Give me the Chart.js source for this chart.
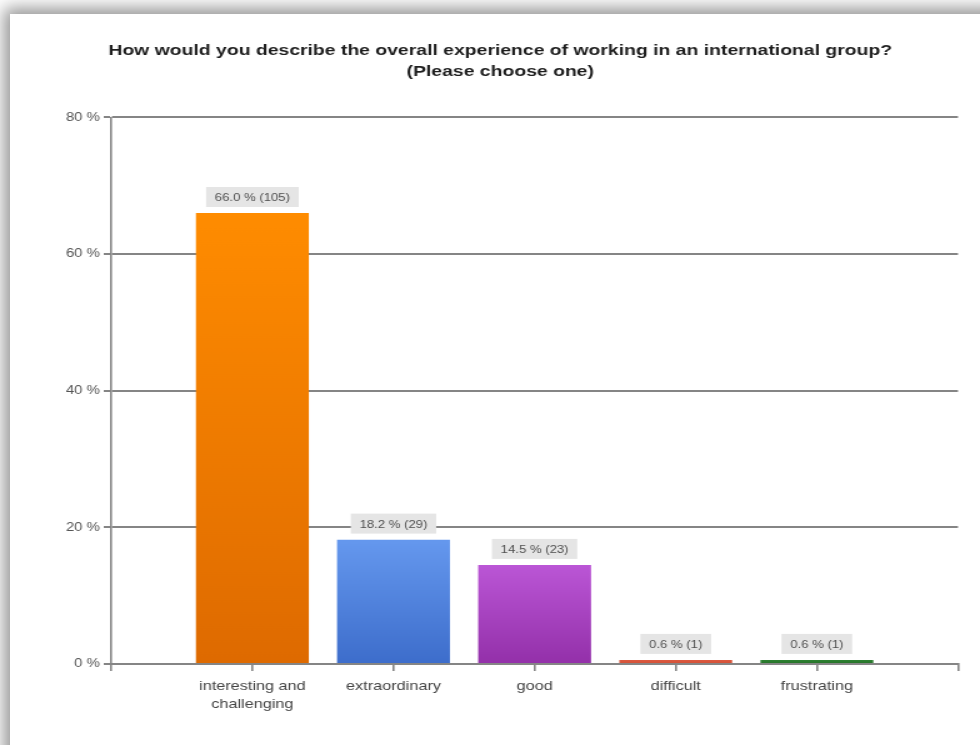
<!DOCTYPE html>
<html>
<head>
<meta charset="utf-8">
<script src="https://cdn.jsdelivr.net/npm/chart.js@4/dist/chart.umd.min.js"></script>
<style>
  html, body { margin: 0; padding: 0; width: 980px; height: 745px; overflow: hidden; background: #fff; }
  #card {
    position: absolute; left: 10px; top: 14px; width: 1200px; height: 1000px;
    background: #fff; box-shadow: 0 0 16px 6px rgba(0,0,0,0.42);
  }
  #wrap { position: absolute; left: 0; top: 0; width: 980px; height: 745px; }
</style>
</head>
<body>
<div id="card"></div>
<div id="wrap">
  <!-- drawn on a narrower canvas and widened by CSS, giving the wide lettering -->
  <canvas id="chart" width="784" height="745" style="width:980px;height:745px"></canvas>
</div>
<script>
// Survey answers
const categories = [
  ['interesting and', 'challenging'],
  'extraordinary',
  'good',
  'difficult',
  'frustrating'
];
const percentages = [66.0, 18.2, 14.5, 0.6, 0.6];
const counts = [105, 29, 23, 1, 1];
const yTickValues = [0, 20, 40, 60, 80];
const titleLines = [
  'How would you describe the overall experience of working in an international group?',
  '(Please choose one)'
];

// Bar fills: top and bottom colour of each vertical gradient
const topColors = ['#ff8c00', '#6598ee', '#bb56d6', '#dc5a40', '#2e8232'];
const bottomColors = ['#de6a00', '#3d6dcb', '#9330a9', '#d24f36', '#256f28'];

const FONT = '"Liberation Sans", Arial, sans-serif';
const LINE = '#858585';

// An empty slot at each end of the category axis leaves space around the bars
const labels = [''].concat(categories, ['']);
const values = [null].concat(percentages, [null]);

const valueLabels = {
  id: 'valueLabels',
  afterDatasetsDraw(chart) {
    const ctx = chart.ctx;
    const meta = chart.getDatasetMeta(0);
    ctx.save();
    ctx.font = '10.5px ' + FONT;
    ctx.textAlign = 'center';
    ctx.textBaseline = 'middle';
    meta.data.forEach((bar, idx) => {
      const i = idx - 1;
      if (i < 0 || i >= percentages.length) return;
      const text = percentages[i].toFixed(1) + ' % (' + counts[i] + ')';
      const w = ctx.measureText(text).width + 14;
      const h = 20;
      const bottom = bar.y - 6;
      ctx.fillStyle = '#e5e5e5';
      ctx.fillRect(bar.x - w / 2, bottom - h, w, h);
      ctx.fillStyle = '#505050';
      ctx.fillText(text, bar.x, bottom - h / 2 + 1);
    });
    ctx.restore();
  }
};

new Chart(document.getElementById('chart'), {
  type: 'bar',
  data: {
    labels: labels,
    datasets: [{
      data: values,
      barPercentage: 0.8,
      categoryPercentage: 1.0,
      borderWidth: 0,
      backgroundColor(c) {
        const chart = c.chart;
        const area = chart.chartArea;
        const i = c.dataIndex - 1;
        if (!area || i < 0 || i >= percentages.length) return 'transparent';
        const yTop = chart.scales.y.getPixelForValue(percentages[i]);
        const g = chart.ctx.createLinearGradient(0, yTop, 0, area.bottom);
        g.addColorStop(0, topColors[i]);
        g.addColorStop(1, bottomColors[i]);
        return g;
      }
    }]
  },
  options: {
    responsive: false,
    animation: false,
    layout: { padding: { left: 34, right: 17.6, top: 0, bottom: 0 } },
    plugins: {
      legend: { display: false },
      tooltip: { enabled: false },
      title: {
        display: true,
        text: titleLines,
        color: '#1e1e1e',
        font: { family: FONT, size: 15.5, weight: 'bold', lineHeight: 1.3 },
        padding: { top: 41, bottom: 36 }
      }
    },
    scales: {
      x: {
        type: 'category',
        offset: false,
        grid: { offset: false, drawOnChartArea: false, drawTicks: true, tickLength: 7, color: LINE, lineWidth: 1.6 },
        border: { display: true, color: LINE, width: 2 },
        ticks: {
          autoSkip: false, maxRotation: 0, padding: 6,
          color: '#444', font: { family: FONT, size: 13, lineHeight: 1.4 }
        },
        afterFit(s) { s.height = 81; }
      },
      y: {
        min: yTickValues[0],
        max: yTickValues[yTickValues.length - 1],
        afterBuildTicks(s) { s.ticks = yTickValues.map(v => ({ value: v })); },
        grid: { color: LINE, lineWidth: 2, tickLength: 6 },
        border: { display: true, color: LINE, width: 1.6 },
        ticks: {
          padding: 3, color: '#555',
          font: { family: FONT, size: 12 },
          callback: v => v + ' %'
        },
        afterFit(s) { s.width = 55; }
      }
    }
  },
  plugins: [valueLabels]
});
</script>
</body>
</html>
